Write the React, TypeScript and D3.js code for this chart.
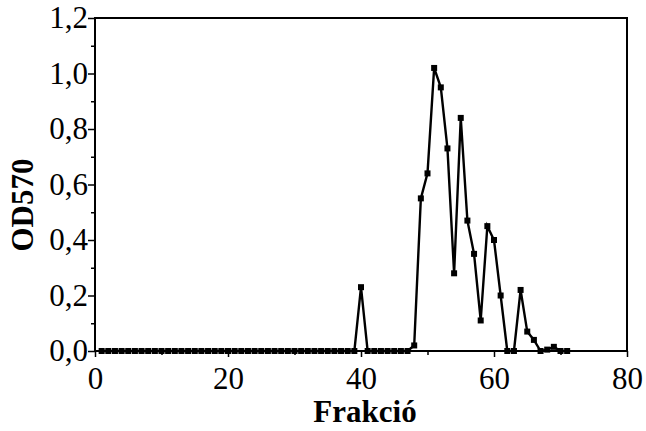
import React, { useEffect, useRef } from "react";
import * as d3 from "d3";

// Fraction numbers (x) and OD570 readings (y)
const fractions = [
  1, 2, 3, 4, 5, 6, 7, 8, 9, 10, 11, 12, 13, 14, 15, 16, 17, 18, 19, 20,
  21, 22, 23, 24, 25, 26, 27, 28, 29, 30, 31, 32, 33, 34, 35, 36, 37, 38, 39, 40,
  41, 42, 43, 44, 45, 46, 47, 48, 49, 50, 51, 52, 53, 54, 55, 56, 57, 58, 59, 60,
  61, 62, 63, 64, 65, 66, 67, 68, 69, 70, 71,
];
const od570 = [
  0, 0, 0, 0, 0, 0, 0, 0, 0, 0, 0, 0, 0, 0, 0, 0, 0, 0, 0, 0,
  0, 0, 0, 0, 0, 0, 0, 0, 0, 0, 0, 0, 0, 0, 0, 0, 0, 0, 0, 0.23,
  0, 0, 0, 0, 0, 0, 0, 0.02, 0.55, 0.64, 1.02, 0.95, 0.73, 0.28, 0.84, 0.47,
  0.35, 0.11, 0.45, 0.4, 0.2, 0, 0, 0.22, 0.07, 0.04, 0, 0.005, 0.015, 0, 0,
];

const xTicks = [0, 20, 40, 60, 80];
const xMinorTicks = [10, 30, 50, 70];
const yTicks = [0, 0.2, 0.4, 0.6, 0.8, 1.0, 1.2];
const yTickLabels = ["0,0", "0,2", "0,4", "0,6", "0,8", "1,0", "1,2"];
const yMinorTicks = [0.1, 0.3, 0.5, 0.7, 0.9, 1.1];

const FONT = "'Liberation Serif', 'Times New Roman', serif";

export default function App() {
  const svgRef = useRef<SVGSVGElement>(null);
  const width = 646;
  const height = 431;

  useEffect(() => {
    if (!svgRef.current) return;
    const svg = d3.select(svgRef.current);
    svg.selectAll("*").remove();

    const left = 95, right = 627, top = 18, bottom = 351;

    const x = d3.scaleLinear().domain([0, 80]).range([left, right]);
    const y = d3.scaleLinear().domain([0, 1.2]).range([bottom, top]);

    const data = fractions.map((f, i) => ({ f, v: od570[i] }));

    // minor ticks
    svg.append("g")
      .attr("transform", `translate(0, ${bottom})`)
      .call(d3.axisBottom(x).tickValues(xMinorTicks).tickSize(4).tickFormat(() => ""))
      .call((g) => g.select(".domain").remove())
      .selectAll("line").attr("stroke", "#000").attr("stroke-width", 1.5);

    svg.append("g")
      .attr("transform", `translate(${left}, 0)`)
      .call(d3.axisLeft(y).tickValues(yMinorTicks).tickSize(4).tickFormat(() => ""))
      .call((g) => g.select(".domain").remove())
      .selectAll("line").attr("stroke", "#000").attr("stroke-width", 1.5);

    // X axis
    const xAxis = svg.append("g")
      .attr("transform", `translate(0, ${bottom})`)
      .call(d3.axisBottom(x).tickValues(xTicks).tickSize(6).tickPadding(10).tickFormat(d3.format("d")));
    xAxis.select(".domain").remove();
    xAxis.selectAll("line").attr("stroke", "#000").attr("stroke-width", 1.5);
    xAxis.selectAll("text")
      .attr("font-family", FONT)
      .attr("font-size", "31px")
      .attr("fill", "#000");

    // Y axis
    const yAxis = svg.append("g")
      .attr("transform", `translate(${left}, 0)`)
      .call(
        d3.axisLeft(y).tickValues(yTicks).tickSize(7).tickPadding(0)
          .tickFormat((_, i) => yTickLabels[i]),
      );
    yAxis.select(".domain").remove();
    yAxis.selectAll("line").attr("stroke", "#000").attr("stroke-width", 1.5);
    yAxis.selectAll("text")
      .attr("font-family", FONT)
      .attr("font-size", "31px")
      .attr("fill", "#000");

    // frame
    svg.append("rect")
      .attr("x", left)
      .attr("y", top)
      .attr("width", right - left)
      .attr("height", bottom - top)
      .attr("fill", "none")
      .attr("stroke", "#000")
      .attr("stroke-width", 2);

    // line
    const line = d3.line<{ f: number; v: number }>()
      .x((d) => x(d.f))
      .y((d) => y(d.v));

    svg.append("path")
      .datum(data)
      .attr("d", line)
      .attr("fill", "none")
      .attr("stroke", "#000")
      .attr("stroke-width", 2.4);

    // markers
    svg.append("g")
      .selectAll("rect")
      .data(data)
      .enter()
      .append("rect")
      .attr("x", (d) => x(d.f) - 3)
      .attr("y", (d) => y(d.v) - 3)
      .attr("width", 6)
      .attr("height", 6)
      .attr("fill", "#000");

    // axis titles
    svg.append("text")
      .attr("x", 365)
      .attr("y", 422)
      .attr("text-anchor", "middle")
      .attr("font-family", FONT)
      .attr("font-weight", "bold")
      .attr("font-size", "31px")
      .attr("fill", "#000")
      .text("Frakció");

    svg.append("text")
      .attr("transform", "translate(33, 205) rotate(-90)")
      .attr("text-anchor", "middle")
      .attr("font-family", FONT)
      .attr("font-weight", "bold")
      .attr("font-size", "31px")
      .attr("fill", "#000")
      .text("OD570");
  }, []);

  return (
    <svg
      ref={svgRef}
      width={width}
      height={height}
      style={{ position: "absolute", left: 0, top: 0, background: "#fff" }}
    />
  );
}
